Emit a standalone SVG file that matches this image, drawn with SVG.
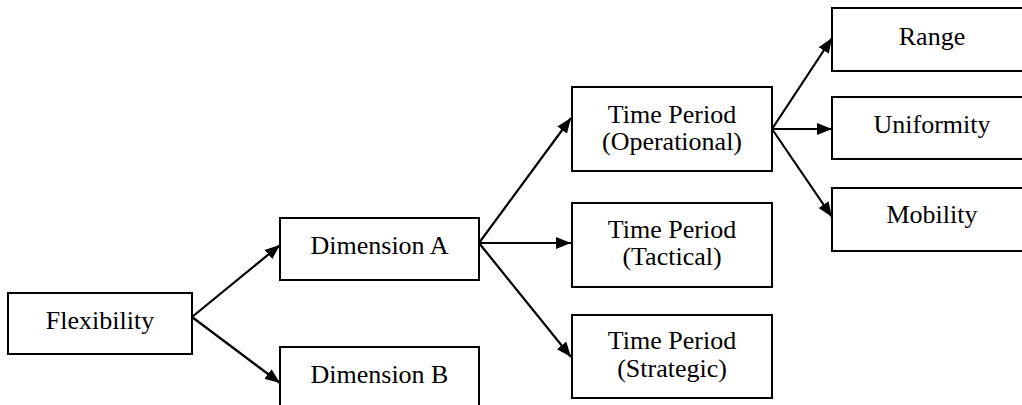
<svg xmlns="http://www.w3.org/2000/svg" width="1022" height="405" viewBox="0 0 1022 405">
  <style>
    .box { fill: #ffffff; stroke: #000000; stroke-width: 2; }
    .lbl { font-family: 'Liberation Serif', 'Times New Roman', Times, serif; font-size: 26px; fill: #000000; text-anchor: middle; }
    .edge { stroke: #000000; stroke-width: 2.2; fill: none; marker-end: url(#arrow); }
  </style>
  <defs>
    <marker id="arrow" viewBox="0 0 15 12" markerUnits="userSpaceOnUse" markerWidth="15" markerHeight="12" refX="15" refY="6" orient="auto">
      <path d="M0,0 L15,6 L0,12 Z" fill="#000000"/>
    </marker>
  </defs>
  <rect width="1022" height="405" fill="#ffffff"/>

  <!-- connectors -->
  <g id="connectors">
    <line class="edge" x1="192" y1="317" x2="280" y2="245"/>
    <line class="edge" x1="192" y1="317" x2="280" y2="383"/>
    <line class="edge" x1="479" y1="243" x2="571" y2="118"/>
    <line class="edge" x1="479" y1="243" x2="571" y2="243"/>
    <line class="edge" x1="479" y1="243" x2="571" y2="357"/>
    <line class="edge" x1="772" y1="129" x2="832" y2="38"/>
    <line class="edge" x1="772" y1="129" x2="832" y2="129"/>
    <line class="edge" x1="772" y1="129" x2="832" y2="217"/>
  </g>

  <!-- nodes -->
  <g id="flexibility">
    <rect class="box" x="8" y="293" width="184" height="61"/>
    <text class="lbl" x="100" y="329">Flexibility</text>
  </g>
  <g id="dimension-a">
    <rect class="box" x="280" y="218" width="199" height="62"/>
    <text class="lbl" x="379.5" y="254">Dimension A</text>
  </g>
  <g id="dimension-b">
    <rect class="box" x="280" y="347" width="199" height="62"/>
    <text class="lbl" x="379.5" y="383">Dimension B</text>
  </g>
  <g id="period-operational">
    <rect class="box" x="572" y="87" width="200" height="84"/>
    <text class="lbl" x="672" y="123">Time Period</text>
    <text class="lbl" x="672" y="150">(Operational)</text>
  </g>
  <g id="period-tactical">
    <rect class="box" x="572" y="203" width="200" height="84"/>
    <text class="lbl" x="672" y="238">Time Period</text>
    <text class="lbl" x="672" y="265">(Tactical)</text>
  </g>
  <g id="period-strategic">
    <rect class="box" x="572" y="315" width="200" height="83"/>
    <text class="lbl" x="672" y="349">Time Period</text>
    <text class="lbl" x="672" y="377">(Strategic)</text>
  </g>
  <g id="range">
    <rect class="box" x="832" y="8" width="200" height="63"/>
    <text class="lbl" x="932" y="45">Range</text>
  </g>
  <g id="uniformity">
    <rect class="box" x="832" y="97" width="200" height="62"/>
    <text class="lbl" x="932" y="133">Uniformity</text>
  </g>
  <g id="mobility">
    <rect class="box" x="832" y="188" width="200" height="63"/>
    <text class="lbl" x="932" y="223">Mobility</text>
  </g>
</svg>
